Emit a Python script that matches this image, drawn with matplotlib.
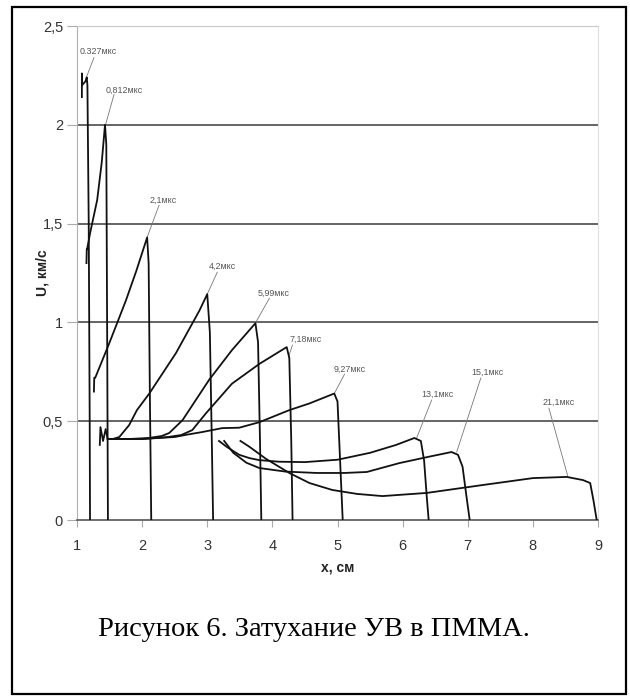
import matplotlib
matplotlib.use("Agg")
import matplotlib.pyplot as plt
from matplotlib.patches import Rectangle

# ---------------- data ----------------
labels = ["0.327мкс", "0,812мкс", "2,1мкс", "4,2мкс", "5,99мкс",
          "7,18мкс", "9,27мкс", "13,1мкс", "15,1мкс", "21,1мкс"]

x_0327 = [1.075, 1.075, 1.077, 1.13, 1.15, 1.16, 1.18, 1.195, 1.20]
u_0327 = [2.14, 2.26, 2.20, 2.22, 2.24, 2.20, 1.50, 0.50, 0.0]

x_0812 = [1.145, 1.15, 1.155, 1.20, 1.31, 1.38, 1.43, 1.45, 1.465, 1.475]
u_0812 = [1.30, 1.37, 1.37, 1.45, 1.62, 1.81, 2.00, 1.90, 0.80, 0.0]

x_21 = [1.26, 1.265, 1.28, 1.49, 1.75, 1.91, 2.077, 2.10, 2.12, 2.14]
u_21 = [0.65, 0.72, 0.72, 0.89, 1.11, 1.26, 1.43, 1.30, 0.60, 0.0]

x_42 = [1.35, 1.36, 1.40, 1.44, 1.47, 1.55, 1.65, 1.80, 1.92, 2.11, 2.52, 2.88, 3.00, 3.04, 3.07, 3.09]
u_42 = [0.38, 0.47, 0.40, 0.46, 0.41, 0.41, 0.42, 0.48, 0.556, 0.64, 0.845, 1.06, 1.143, 0.95, 0.40, 0.0]

x_599 = [1.47, 1.8, 2.1, 2.3, 2.415, 2.62, 3.03, 3.38, 3.74, 3.78, 3.81, 3.83]
u_599 = [0.41, 0.41, 0.415, 0.425, 0.44, 0.505, 0.71, 0.86, 0.996, 0.90, 0.40, 0.0]

x_718 = [1.48, 2.0, 2.4, 2.6, 2.77, 2.98, 3.38, 3.80, 4.22, 4.26, 4.29, 4.31]
u_718 = [0.41, 0.41, 0.42, 0.43, 0.455, 0.54, 0.69, 0.79, 0.875, 0.82, 0.40, 0.0]

x_927 = [1.50, 2.0, 2.5, 2.69, 2.92, 3.23, 3.49, 3.80, 4.26, 4.57, 4.95, 5.00, 5.04, 5.08]
u_927 = [0.41, 0.41, 0.42, 0.432, 0.445, 0.465, 0.467, 0.495, 0.556, 0.59, 0.64, 0.60, 0.30, 0.0]

x_131 = [3.18, 3.30, 3.49, 3.65, 3.80, 4.10, 4.50, 5.00, 5.50, 5.90, 6.18, 6.28, 6.33, 6.37, 6.40]
u_131 = [0.40, 0.37, 0.33, 0.313, 0.303, 0.295, 0.293, 0.305, 0.34, 0.38, 0.415, 0.40, 0.30, 0.12, 0.0]

x_151 = [3.26, 3.40, 3.60, 3.80, 4.20, 4.68, 5.10, 5.45, 5.95, 6.40, 6.75, 6.85, 6.92, 6.98, 7.03]
u_151 = [0.40, 0.34, 0.29, 0.263, 0.245, 0.238, 0.238, 0.243, 0.288, 0.32, 0.344, 0.33, 0.27, 0.12, 0.0]

x_211 = [3.51, 3.65, 3.90, 4.26, 4.57, 4.92, 5.30, 5.69, 6.37, 7.23, 8.00, 8.52, 8.77, 8.88, 8.93, 8.98]
u_211 = [0.40, 0.37, 0.31, 0.238, 0.187, 0.152, 0.132, 0.121, 0.137, 0.177, 0.212, 0.218, 0.202, 0.187, 0.10, 0.0]

curves_x = [x_0327, x_0812, x_21, x_42, x_599, x_718, x_927, x_131, x_151, x_211]
curves_u = [u_0327, u_0812, u_21, u_42, u_599, u_718, u_927, u_131, u_151, u_211]

# label anchor (text centre) and leader-line target on the curve
label_xy = [(1.323, 2.373), (1.723, 2.174), (2.323, 1.618), (3.23, 1.284), (4.015, 1.148),
            (4.508, 0.915), (5.185, 0.763), (6.538, 0.637), (7.308, 0.748), (8.40, 0.597)]
leader_from = [(1.26, 2.34), (1.569, 2.154), (2.26, 1.593), (3.154, 1.254), (3.954, 1.122),
               (4.308, 0.885), (5.108, 0.738), (6.446, 0.607), (7.20, 0.718), (8.246, 0.566)]
leader_to = [(1.138, 2.235), (1.431, 1.992), (2.077, 1.431), (3.0, 1.143), (3.738, 0.996),
             (4.246, 0.824), (4.954, 0.642), (6.215, 0.415), (6.83, 0.344), (8.54, 0.217)]

x_ticks = [1, 2, 3, 4, 5, 6, 7, 8, 9]
y_ticks = [0, 0.5, 1, 1.5, 2, 2.5]
y_tick_labels = ["0", "0,5", "1", "1,5", "2", "2,5"]

# ---------------- figure ----------------
fig = plt.figure(figsize=(6.3, 6.97), dpi=100)
fig.patch.set_facecolor("white")
ax = fig.add_axes([77 / 630, 1 - 520 / 697, 521 / 630, 494 / 697])

for yv in [0.5, 1.0, 1.5, 2.0]:
    ax.axhline(yv, color="#3a3a3a", lw=1.1, zorder=1)

for xs, us in zip(curves_x, curves_u):
    ax.plot(xs, us, color="#111111", lw=1.3, zorder=3, solid_joinstyle="round")

for lab, (tx, ty), (fx, fy), (lx, ly) in zip(labels, label_xy, leader_from, leader_to):
    ax.plot([fx, lx], [fy, ly], color="#777777", lw=0.6, zorder=2)
    ax.text(tx, ty, lab, fontsize=6.4, color="#555555", ha="center", va="center",
            family="Liberation Sans")

ax.set_xlim(1, 9)
ax.set_ylim(0, 2.5)
ax.set_xticks(x_ticks)
ax.set_xticklabels([str(v) for v in x_ticks])
ax.set_yticks(y_ticks)
ax.set_yticklabels(y_tick_labels)
for lbl in ax.get_xticklabels() + ax.get_yticklabels():
    lbl.set_family("Liberation Sans")
    lbl.set_fontsize(10.5)
    lbl.set_color("#333333")
ax.tick_params(axis="x", direction="out", length=5, width=0.8, color="#aaaaaa", pad=9)
ax.tick_params(axis="y", direction="out", length=7, width=0.8, color="#aaaaaa", pad=3)

ax.spines["left"].set_color("#b0b0b0")
ax.spines["top"].set_color("#c8c8c8")
ax.spines["right"].set_color("#e0e0e0")
ax.spines["bottom"].set_color("#555555")
ax.spines["bottom"].set_linewidth(1.2)
for s in ["left", "top", "right"]:
    ax.spines[s].set_linewidth(0.8)

fig.text(338 / 630, 1 - 568 / 697, "x, см", ha="center", va="center",
         fontsize=10, fontweight="bold", family="Liberation Sans", color="#222222")
fig.text(43 / 630, 1 - 273 / 697, "U, км/с", ha="center", va="center", rotation=90,
         fontsize=10, fontweight="bold", family="Liberation Sans", color="#222222")

fig.text(314 / 630, 1 - 630 / 697, "Рисунок 6. Затухание УВ в ПММА.", ha="center", va="center",
         fontsize=20.5, family="Liberation Serif", color="black")

fig.patches.append(Rectangle((12 / 630, 1 - 694 / 697), 614 / 630, 687 / 697,
                             transform=fig.transFigure, fill=False, edgecolor="black",
                             lw=1.6, zorder=10))

fig.savefig("out.png", dpi=100, facecolor="white")
